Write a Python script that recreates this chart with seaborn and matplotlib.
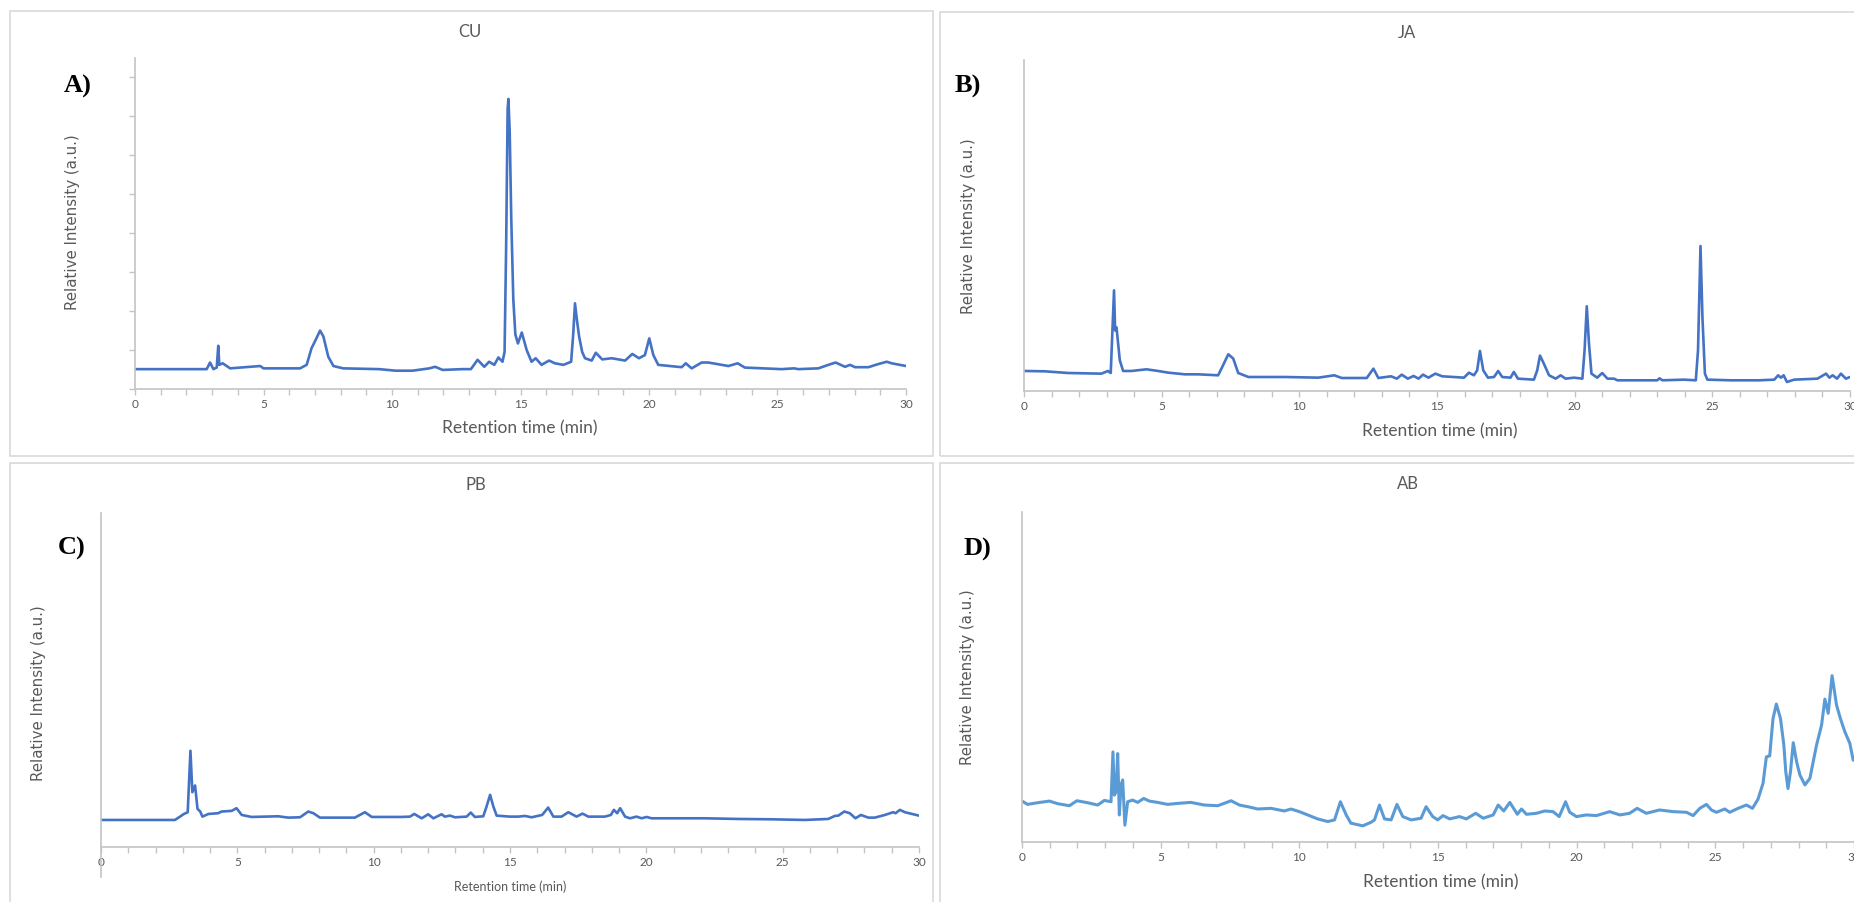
import matplotlib
matplotlib.use("Agg")
import matplotlib.pyplot as plt
from matplotlib.patches import Rectangle
from matplotlib.ticker import MultipleLocator
import seaborn as sns

# -----------------------------
# data (time in min, signal in a.u.)
# -----------------------------
cu_time = [0, 2.79, 2.92, 3.05, 3.18, 3.24, 3.28, 3.41, 3.57, 3.70, 4.87, 5.0, 6.42, 6.68,
           6.87, 7.0, 7.2, 7.33, 7.52, 7.72, 8.1, 9.5, 10.15, 10.8, 11.45, 11.68, 11.97,
           12.74, 13.07, 13.33, 13.59, 13.78, 13.98, 14.14, 14.30, 14.38, 14.44, 14.50,
           14.53, 14.58, 14.64, 14.72, 14.80, 14.90, 15.05, 15.24, 15.43, 15.59, 15.82,
           16.11, 16.34, 16.67, 16.97, 17.05, 17.12, 17.20, 17.28, 17.40, 17.51, 17.77,
           17.93, 18.18, 18.55, 19.07, 19.35, 19.61, 19.84, 20.01, 20.17, 20.36, 21.27,
           21.43, 21.66, 22.05, 22.31, 23.09, 23.45, 23.73, 25.16, 25.65, 25.81, 26.59,
           26.98, 27.26, 27.63, 27.82, 28.02, 28.54, 28.92, 29.25, 29.44, 30.0]
cu_signal = [0.51, 0.51, 0.68, 0.51, 0.55, 1.11, 0.62, 0.66, 0.59, 0.53, 0.59, 0.53, 0.53, 0.62,
             1.05, 1.22, 1.50, 1.35, 0.83, 0.59, 0.53, 0.51, 0.47, 0.47, 0.53, 0.57, 0.49,
             0.51, 0.51, 0.75, 0.57, 0.70, 0.62, 0.81, 0.70, 0.95, 3.6, 7.2,
             7.45, 6.6, 4.4, 2.3, 1.4, 1.17, 1.45, 1.0, 0.70, 0.79, 0.62,
             0.73, 0.66, 0.62, 0.70, 1.4, 2.20, 1.75, 1.35, 0.95, 0.79, 0.73,
             0.93, 0.76, 0.79, 0.73, 0.90, 0.79, 0.87, 1.30, 0.87, 0.62, 0.56,
             0.66, 0.53, 0.68, 0.68, 0.59, 0.66, 0.55, 0.51, 0.53, 0.51, 0.53,
             0.62, 0.68, 0.57, 0.62, 0.56, 0.56, 0.64, 0.70, 0.66, 0.59]

ja_time = [0, 0.75, 1.6, 2.81, 3.05, 3.15, 3.27, 3.31, 3.36, 3.48, 3.6, 3.9, 4.45, 4.87,
           5.24, 5.84, 6.33, 7.05, 7.2, 7.42, 7.6, 7.78, 8.15, 9.48, 10.69, 11.27, 11.54,
           12.45, 12.69, 12.87, 13.33, 13.54, 13.72, 13.94, 14.15, 14.33, 14.49, 14.69,
           14.94, 15.19, 15.98, 16.16, 16.34, 16.46, 16.56, 16.68, 16.85, 17.07, 17.22,
           17.37, 17.67, 17.79, 17.94, 18.52, 18.64, 18.74, 18.88, 19.07, 19.31, 19.49,
           19.67, 19.98, 20.28, 20.36, 20.44, 20.52, 20.61, 20.82, 21.0, 21.19, 21.43,
           21.55, 23.0, 23.08, 23.19, 23.97, 24.4, 24.48, 24.57, 24.64, 24.73, 24.82,
           25.67, 26.70, 27.25, 27.39, 27.49, 27.59, 27.71, 27.97, 28.82, 29.13, 29.25,
           29.37, 29.53, 29.67, 29.85, 30.0]
ja_signal = [6.05, 5.95, 5.44, 5.24, 6.05, 5.44, 30.4, 18.3, 19.2, 9.27, 6.05, 6.05, 6.55, 6.05,
             5.54, 5.04, 5.04, 4.74, 7.26, 11.1, 9.78, 5.44, 4.23, 4.23, 4.03, 4.74, 3.93,
             3.93, 6.75, 3.93, 4.44, 3.73, 4.94, 3.73, 4.54, 3.73, 4.94, 4.03,
             5.24, 4.44, 4.03, 5.54, 4.74, 6.25, 12.1, 6.25, 4.03, 4.23, 6.05,
             4.23, 4.03, 5.75, 3.73, 3.43, 6.25, 10.7, 8.27, 4.74, 3.73, 4.74,
             3.73, 4.03, 3.73, 12.3, 25.6, 14.3, 5.24, 4.03, 5.44, 3.73, 3.73,
             3.23, 3.23, 3.83, 3.23, 3.43, 3.23, 12.3, 43.8, 22.4, 5.24, 3.43,
             3.23, 3.23, 3.43, 4.74, 4.03, 4.74, 2.72, 3.43, 3.73, 5.24, 4.03,
             4.74, 3.73, 5.24, 3.73, 4.23]

pb_time = [0, 2.71, 2.90, 3.02, 3.18, 3.28, 3.35, 3.45, 3.54, 3.64, 3.72, 3.94, 4.30, 4.42,
           4.79, 4.97, 5.16, 5.52, 6.50, 6.87, 7.30, 7.60, 7.79, 8.03, 9.31, 9.68, 9.93,
           11.03, 11.33, 11.49, 11.76, 12.0, 12.19, 12.49, 12.61, 12.80, 12.98, 13.41,
           13.56, 13.71, 14.02, 14.14, 14.27, 14.39, 14.51, 15.0, 15.30, 15.55, 15.79,
           16.18, 16.40, 16.59, 16.89, 17.14, 17.44, 17.66, 17.87, 18.48, 18.70, 18.81,
           18.93, 19.04, 19.22, 19.40, 19.64, 19.83, 20.01, 20.19, 22.15, 23.37, 24.59,
           25.81, 26.67, 26.91, 27.04, 27.26, 27.46, 27.67, 27.87, 28.14, 28.38, 28.75,
           29.05, 29.14, 29.30, 29.48, 30.0]
pb_signal = [8.08, 8.08, 9.08, 9.78, 10.4, 28.8, 16.4, 18.4, 11.4, 10.6, 9.08, 9.88, 10.1, 10.6,
             10.8, 11.6, 9.58, 8.98, 9.18, 8.78, 8.88, 10.6, 10.1, 8.78, 8.78, 10.4, 8.98,
             8.98, 9.08, 9.88, 8.58, 9.78, 8.58, 9.78, 9.08, 9.38, 8.88, 9.08,
             10.3, 8.98, 9.18, 12.1, 15.6, 12.1, 9.38, 9.08, 9.08, 9.28, 8.88,
             9.58, 11.8, 9.08, 9.08, 10.4, 9.08, 9.98, 9.08, 9.08, 9.58, 11.1,
             10.1, 11.6, 9.08, 8.58, 9.08, 8.58, 8.98, 8.58, 8.58, 8.38, 8.28,
             8.08, 8.38, 9.28, 9.38, 10.6, 10.1, 8.58, 9.58, 8.78, 8.78, 9.58,
             10.4, 10.1, 11.1, 10.4, 9.38]

ab_time = [0, 0.2, 0.56, 0.99, 1.29, 1.71, 1.98, 2.37, 2.73, 2.97, 3.21, 3.28, 3.33, 3.39,
           3.45, 3.51, 3.57, 3.63, 3.71, 3.81, 3.99, 4.17, 4.39, 4.59, 4.89, 5.25, 5.61,
           6.09, 6.57, 7.06, 7.54, 7.84, 8.14, 8.50, 8.98, 9.46, 9.70, 10.0, 10.3, 10.66,
           11.03, 11.27, 11.48, 11.69, 11.86, 12.29, 12.59, 12.71, 12.89, 13.07, 13.31,
           13.52, 13.73, 14.03, 14.39, 14.57, 14.81, 14.99, 15.18, 15.42, 15.78, 16.02,
           16.36, 16.63, 16.99, 17.17, 17.37, 17.59, 17.86, 18.01, 18.19, 18.55, 18.85,
           19.15, 19.37, 19.60, 19.75, 19.99, 20.35, 20.71, 21.19, 21.56, 21.91, 22.18,
           22.51, 22.99, 23.48, 23.96, 24.20, 24.44, 24.68, 24.86, 25.04, 25.34, 25.52,
           25.82, 26.12, 26.34, 26.54, 26.72, 26.84, 26.96, 27.08, 27.20, 27.35, 27.47,
           27.54, 27.62, 27.71, 27.81, 27.93, 28.05, 28.23, 28.41, 28.65, 28.83, 28.95,
           29.07, 29.21, 29.37, 29.51, 29.67, 29.85, 29.97]
ab_signal = [12.4, 11.4, 11.9, 12.4, 11.6, 11.0, 12.5, 11.9, 11.2, 12.6, 12.2, 27.3, 14.2, 15.2,
             26.8, 8.2, 17.3, 18.8, 5.1, 12.2, 12.7, 12.0, 13.2, 12.4, 12.0, 11.4, 11.7,
             12.0, 11.2, 11.0, 12.5, 11.2, 10.7, 10.0, 10.2, 9.4, 10.0, 9.2, 8.2, 7.0,
             6.2, 6.7, 12.2, 8.2, 5.7, 4.9, 6.0, 6.7, 11.2, 7.0, 6.7,
             11.4, 7.7, 6.7, 7.2, 10.7, 7.7, 6.7, 8.0, 7.0, 7.7, 7.0,
             8.7, 7.2, 8.2, 11.2, 9.4, 12.0, 8.4, 10.0, 8.4, 8.7, 9.4,
             9.2, 7.7, 12.2, 9.0, 7.7, 8.2, 8.0, 9.2, 8.2, 8.7, 10.2,
             8.7, 9.7, 9.2, 9.0, 8.0, 10.2, 11.4, 9.7, 9.0, 10.0, 9.0,
             10.2, 11.2, 10.2, 13.0, 17.8, 25.8, 26.1, 37.4, 41.8, 37.4, 29.4,
             21.3, 16.2, 21.3, 30.1, 24.3, 20.3, 17.3, 19.3, 29.4, 35.4, 43.3,
             39.0, 50.4, 41.5, 37.4, 33.4, 29.9, 24.8]

titles = ["CU", "JA", "PB", "AB"]
letters = ["A)", "B)", "C)", "D)"]
tick_labels = ["0", "5", "10", "15", "20", "25", "30"]

# -----------------------------
# style
# -----------------------------
sns.set_style("white")
plt.rcParams["font.family"] = ["Lato", "DejaVu Sans"]

W, H = 1854, 902
GRAY_TXT = "#595959"
GRAY_AX = "#c4c4c4"
BLUE = "#4472C4"
BLUE_D = "#5B9BD5"

fig = plt.figure(figsize=(W / 100, H / 100), dpi=100)


def fx(px):
    return px / W


def fy(py):
    return 1 - py / H


def add_ax(left, top, right, bottom):
    return fig.add_axes([fx(left), fy(bottom), (right - left) / W, (bottom - top) / H])


def frame(x0, y0, x1, y1):
    fig.add_artist(Rectangle((fx(x0), fy(y1)), (x1 - x0) / W, (y1 - y0) / H,
                             transform=fig.transFigure, fill=False,
                             edgecolor="#d9d9d9", lw=1.2))


# panel boxes
frame(9.5, 11, 933, 456)
frame(939.5, 12, 1870, 456)
frame(9.5, 463, 933, 920)
frame(939.5, 463, 1870, 920)

panels = [
    # (time, signal, colour, axes box, ylim, line width)
    (cu_time, cu_signal, BLUE, (135, 58, 906, 389), (0, 8.5), 1.9),
    (ja_time, ja_signal, BLUE, (1024, 60, 1850, 391), (0, 100), 1.9),
    (pb_time, pb_signal, BLUE, (101, 513, 919, 877), (-9, 100), 1.9),
    (ab_time, ab_signal, BLUE_D, (1022, 512, 1854, 842), (0, 100), 2.2),
]

axes = []
for i, (t, s, col, box, yl, lw) in enumerate(panels):
    ax = add_ax(*box)
    sns.lineplot(x=t, y=s, ax=ax, color=col, lw=lw, estimator=None)
    ax.set_xlim(0, 30)
    ax.set_ylim(*yl)
    ax.patch.set_alpha(0)
    for side in ["top", "right"]:
        ax.spines[side].set_visible(False)
    for side in ["left", "bottom"]:
        ax.spines[side].set_color(GRAY_AX)
        ax.spines[side].set_linewidth(1.2)
    ax.set_xticks(range(0, 31, 5))
    ax.set_xticklabels(tick_labels)
    ax.xaxis.set_minor_locator(MultipleLocator(1))
    ax.tick_params(axis="x", which="both", bottom=True, length=4, width=1,
                   color=GRAY_AX, direction="out", pad=3,
                   labelsize=8.5, labelcolor=GRAY_TXT)
    if i == 0:
        ax.set_yticks(range(0, 9))
        ax.set_yticklabels([])
        ax.tick_params(axis="y", left=True, length=4, width=1, color=GRAY_AX)
    else:
        ax.set_yticks([])
    if i == 2:
        ax.spines["bottom"].set_position(("data", 0))
    ax.set_xlabel("")
    ax.set_ylabel("")
    axes.append(ax)

# titles
for txt, (px, py) in zip(titles, [(470, 32), (1407, 33), (476, 485), (1408, 484)]):
    fig.text(fx(px), fy(py), txt, ha="center", va="center", fontsize=12, color=GRAY_TXT)

# panel letters
for txt, (px, py) in zip(letters, [(78, 86), (968, 86), (72, 548), (977, 549)]):
    fig.text(fx(px), fy(py), txt, ha="center", va="center", fontsize=19,
             fontweight="bold", family="Liberation Serif", color="black")

# y labels
for px, py in [(72, 222), (969, 226), (39, 693), (967, 677)]:
    fig.text(fx(px), fy(py), "Relative Intensity (a.u.)", ha="center", va="center",
             rotation=90, fontsize=10.8, family="DejaVu Sans", color=GRAY_TXT)

# x labels
for (px, py), fs in zip([(520, 428), (1440, 431), (510, 887), (1441, 882)], [12.5, 12.5, 9, 12.5]):
    fig.text(fx(px), fy(py), "Retention time (min)", ha="center", va="center",
             fontsize=fs, color=GRAY_TXT)

plt.savefig("out.png", dpi=100)
